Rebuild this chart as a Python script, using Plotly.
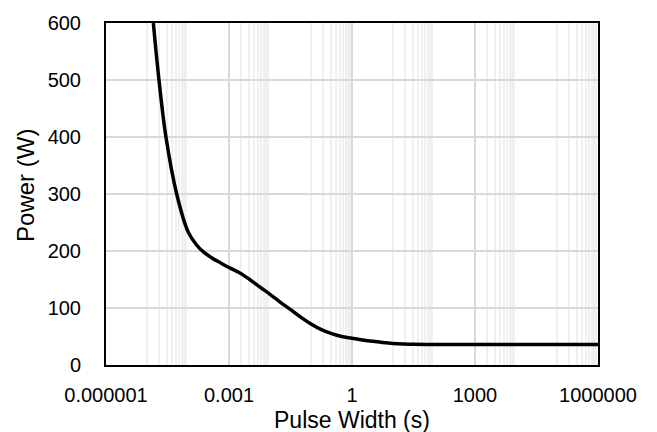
import plotly.graph_objects as go

# Pulse width (s) vs. allowed power (W)
pulse_width = [1.43e-5, 1.96e-5, 2.9e-5, 5.3e-5, 1.0e-4, 1.6e-4, 2.5e-4, 4.0e-4,
               6.3e-4, 1.0e-3, 1.8e-3, 3.2e-3, 5.6e-3, 0.01, 0.018, 0.032,
               0.056, 0.1, 0.18, 0.32, 0.56, 1.0, 1.8, 3.2, 5.6, 10, 18, 32,
               100, 1e6]
power = [600, 500, 400, 300, 234, 211, 197, 187,
         179, 171, 162, 150, 137, 124, 110, 97,
         84, 72, 62, 55, 50, 47, 44, 41.5, 39.5, 37.8, 36.8, 36.2,
         36, 36]

x_tick_vals = [1e-6, 1e-3, 1, 1e3, 1e6]
x_tick_text = ["0.000001", "0.001", "1", "1000", "1000000"]
y_tick_vals = [0, 100, 200, 300, 400, 500, 600]

# minor vertical gridlines
x_minor_vals = ([k * 1e-5 for k in range(1, 10)]
                + [k * 1e-3 for k in range(2, 10)]
                + [k * 1e-1 for k in range(1, 10)]
                + [k * 10 for k in range(1, 10)]
                + [k * 1e3 for k in range(2, 10)]
                + [k * 1e5 for k in range(1, 10)])

font_family = "Liberation Sans, Arial, sans-serif"

fig = go.Figure()
fig.add_trace(go.Scatter(
    x=pulse_width, y=power, mode="lines",
    line=dict(color="black", width=3.5, shape="spline", smoothing=1.0),
    hoverinfo="x+y", showlegend=False,
))

fig.update_layout(
    width=657, height=432,
    margin=dict(l=106, r=59, t=15, b=67),
    paper_bgcolor="white", plot_bgcolor="white",
    font=dict(family=font_family, color="black", size=20),
    xaxis=dict(
        type="log", range=[-6, 6],
        tickmode="array", tickvals=x_tick_vals, ticktext=x_tick_text,
        showgrid=True, gridcolor="#d9d9d9", gridwidth=1.5,
        minor=dict(tickmode="array", tickvals=x_minor_vals, showgrid=True,
                   gridcolor="#f0f0f0", gridwidth=2, ticks=""),
        showline=True, linecolor="black", linewidth=2, mirror=True,
        ticks="", ticklabelstandoff=11,
        tickfont=dict(size=20), zeroline=False,
    ),
    yaxis=dict(
        range=[0, 600], tickmode="array", tickvals=y_tick_vals,
        showgrid=True, gridcolor="#d9d9d9", gridwidth=1.5,
        showline=True, linecolor="black", linewidth=2, mirror=True,
        ticks="", ticklabelstandoff=19,
        tickfont=dict(size=20), zeroline=False,
    ),
    annotations=[
        dict(text="Pulse Width (s)", xref="paper", yref="paper",
             x=0.5, y=-0.16, xanchor="center", yanchor="middle",
             showarrow=False, font=dict(size=23)),
        dict(text="Power (W)", xref="paper", yref="paper",
             x=-0.165, y=0.526, xanchor="center", yanchor="middle",
             textangle=-90, showarrow=False, font=dict(size=24)),
    ],
)

fig.write_html("out.html")
